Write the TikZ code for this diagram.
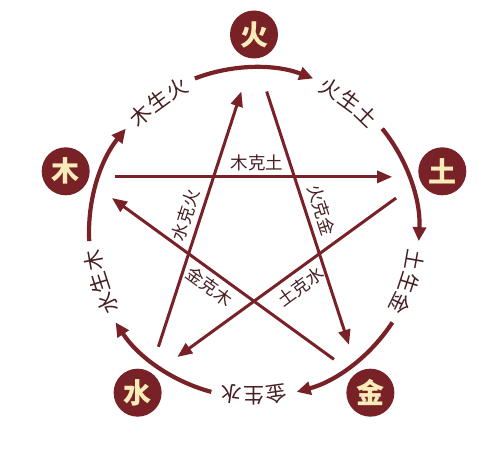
\documentclass[tikz,border=0pt]{standalone}
\usepackage{fontspec}
\newfontfamily\cjk{Noto Sans CJK SC}
\usetikzlibrary{arrows.meta,calc}
\definecolor{wxred}{RGB}{120,34,40}
\definecolor{wxcream}{RGB}{250,236,185}
\definecolor{wxtext}{RGB}{70,32,34}
\begin{document}
\begin{tikzpicture}[x=1pt,y=1pt,
  elem/.style={circle,fill=wxred,minimum size=48pt,inner sep=0pt,text=wxcream,font=\cjk\bfseries\fontsize{28}{28}\selectfont},
  genarc/.style={draw=wxred,line width=4.2pt,-{Triangle[length=14pt,width=13pt]}},
  kearrow/.style={draw=wxred,line width=3pt,-{Triangle[length=15pt,width=12pt]}},
  genlbl/.style={text=wxtext,font=\cjk\fontsize{21}{21}\selectfont,inner sep=0pt},
  kelbl/.style={text=wxtext,font=\cjk\fontsize{17.5}{17.5}\selectfont,inner sep=0pt}]
\useasboundingbox (0,0) rectangle (487,452);
\fill[white] (0,0) rectangle (487,452);
\coordinate (O) at (254,219.5);
% element nodes
\node[elem] (huo)  at ($(O)+(90:198)$)   {火};
\node[elem] (tu)   at ($(O)+(18:198)$)   {土};
\node[elem] (jin)  at ($(O)+(-54:198)$)  {金};
\node[elem] (shui) at ($(O)+(-126:198)$) {水};
\node[elem] (mu)   at ($(O)+(162:198)$)  {木};
% generating arcs
\foreach \a/\n in {90/huo,18/tu,-54/jin,-126/shui,162/mu}{
  \coordinate (s\n) at ($(O)+(\a+21:165)$);
  \draw[genarc] (s\n) arc[start angle=\a+21, end angle=\a-21, radius=165];
}
% generating labels
\foreach \ang/\ch [count=\i] in {134/木,126/生,118/火, 62/火,54/生,46/土, -10/土,-18/生,-26/金, -82/金,-90/生,-98/水, -154/水,-162/生,-170/木}{
  \node[genlbl,rotate=\ang-90] (g\i) at ($(O)+(\ang:163)$) {\ch};
}
% star vertices
\foreach \a/\n in {90/1,18/2,-54/3,-126/4,162/5}{
  \coordinate (v\n) at ($(O)+(\a:180)$);
}
\draw[kearrow, shorten <=32pt, shorten >=33pt] (v5) -- (v2);
\draw[kearrow, shorten <=41pt, shorten >=35pt] (v1) -- (v3);
\draw[kearrow, shorten <=36pt, shorten >=36pt] (v2) -- (v4);
\draw[kearrow, shorten <=33pt, shorten >=41pt] (v4) -- (v1);
\draw[kearrow, shorten <=32pt, shorten >=36pt] (v3) -- (v5);
% overcoming labels
\node[kelbl] (k1) at (257,289.5) {木克土};
\node[kelbl,rotate=72] (k2) at (185.5,237) {水克火};
\node[kelbl,rotate=-72] (k3) at (321.5,242) {火克金};
\node[kelbl,rotate=-36] (k4) at (209.5,165.5) {金克木};
\node[kelbl,rotate=36] (k5) at (300.5,165.5) {土克水};
\end{tikzpicture}
\end{document}
